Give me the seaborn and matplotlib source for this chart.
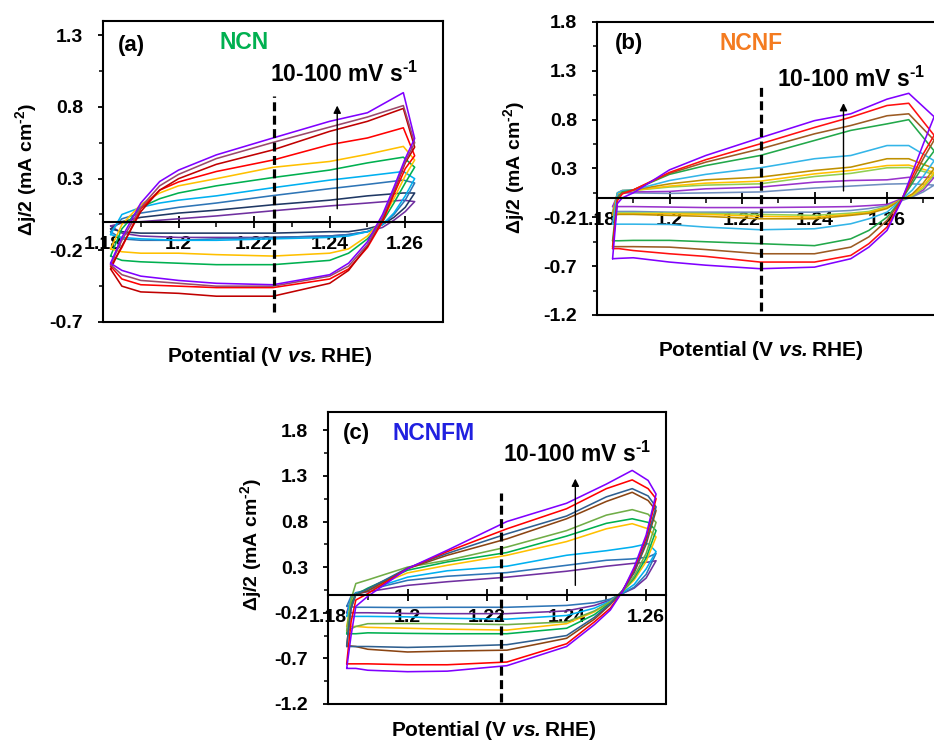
import numpy as np
import pandas as pd
import matplotlib
matplotlib.use("Agg")
import matplotlib.pyplot as plt
import seaborn as sns
from matplotlib.ticker import FixedLocator

# ---------------- data ----------------
RATES = [10, 20, 30, 40, 50, 60, 70, 80, 90, 100]

# Panel (a) NCN
A_V_UP = [1.182, 1.185, 1.19, 1.195, 1.20, 1.21, 1.225, 1.24, 1.25, 1.2595, 1.2625]
A_V_LO = [1.2625, 1.260, 1.257, 1.254, 1.25, 1.245, 1.24, 1.225, 1.21, 1.20, 1.19, 1.185, 1.182]
a_up_10 = [-0.03, -0.01, 0.00, 0.01, 0.02, 0.04, 0.076, 0.11, 0.13, 0.15, 0.14]
a_lo_10 = [0.14, 0.07, 0.01, -0.04, -0.07, -0.09, -0.10, -0.11, -0.11, -0.11, -0.10, -0.08, -0.03]
a_up_20 = [-0.05, 0.00, 0.03, 0.045, 0.06, 0.08, 0.118, 0.15, 0.18, 0.20, 0.20]
a_lo_20 = [0.20, 0.10, 0.03, -0.02, -0.05, -0.07, -0.07, -0.08, -0.08, -0.08, -0.08, -0.07, -0.05]
a_up_30 = [-0.07, 0.02, 0.06, 0.08, 0.10, 0.13, 0.182, 0.23, 0.26, 0.29, 0.27]
a_lo_30 = [0.27, 0.15, 0.05, -0.02, -0.07, -0.09, -0.10, -0.11, -0.12, -0.13, -0.13, -0.12, -0.07]
a_up_40 = [-0.09, 0.05, 0.10, 0.13, 0.15, 0.18, 0.237, 0.29, 0.32, 0.35, 0.30]
a_lo_40 = [0.30, 0.18, 0.06, -0.02, -0.07, -0.10, -0.11, -0.12, -0.13, -0.13, -0.12, -0.11, -0.09]
a_up_50 = [-0.24, -0.05, 0.10, 0.16, 0.20, 0.25, 0.308, 0.36, 0.41, 0.45, 0.38]
a_lo_50 = [0.38, 0.27, 0.13, 0.00, -0.12, -0.22, -0.27, -0.30, -0.30, -0.29, -0.28, -0.27, -0.24]
a_up_60 = [-0.19, -0.02, 0.12, 0.20, 0.25, 0.30, 0.379, 0.42, 0.47, 0.525, 0.43]
a_lo_60 = [0.43, 0.32, 0.16, 0.02, -0.10, -0.19, -0.22, -0.24, -0.23, -0.22, -0.22, -0.21, -0.19]
a_up_70 = [-0.31, -0.18, 0.09, 0.22, 0.277, 0.35, 0.43, 0.537, 0.584, 0.655, 0.46]
a_lo_70 = [0.46, 0.37, 0.19, 0.00, -0.18, -0.33, -0.40, -0.46, -0.46, -0.45, -0.44, -0.40, -0.31]
a_up_80 = [-0.33, -0.17, 0.07, 0.22, 0.30, 0.40, 0.501, 0.63, 0.70, 0.79, 0.52]
a_lo_80 = [0.52, 0.41, 0.21, 0.02, -0.17, -0.34, -0.43, -0.52, -0.52, -0.50, -0.49, -0.45, -0.33]
a_up_90 = [-0.30, -0.13, 0.10, 0.25, 0.33, 0.44, 0.553, 0.66, 0.73, 0.81, 0.55]
a_lo_90 = [0.55, 0.42, 0.22, 0.03, -0.16, -0.31, -0.38, -0.45, -0.45, -0.43, -0.41, -0.37, -0.30]
a_up_100 = [-0.29, -0.11, 0.13, 0.28, 0.36, 0.466, 0.584, 0.70, 0.76, 0.90, 0.58]
a_lo_100 = [0.58, 0.44, 0.24, 0.05, -0.14, -0.29, -0.37, -0.44, -0.43, -0.41, -0.38, -0.34, -0.29]
A_COLORS = ["#7030A0", "#1F3864", "#2E75B6", "#00B0F0", "#00B050",
            "#FFC000", "#FF0000", "#C00000", "#9A4A6A", "#8000FF"]

# Panel (b) NCNF
B_V_UP = [1.1843, 1.1856, 1.187, 1.19, 1.20, 1.21, 1.225, 1.24, 1.25, 1.26, 1.266, 1.273]
B_V_LO = [1.273, 1.270, 1.267, 1.264, 1.26, 1.255, 1.25, 1.24, 1.225, 1.21, 1.20, 1.19, 1.186, 1.1843]
b_up_10 = [-0.14, 0.03, 0.05, 0.05, 0.045, 0.05, 0.06, 0.10, 0.12, 0.14, 0.145, 0.13]
b_lo_10 = [0.13, 0.06, 0.01, -0.03, -0.08, -0.11, -0.13, -0.147, -0.147, -0.147, -0.147, -0.14, -0.14, -0.14]
b_up_20 = [-0.09, 0.02, 0.05, 0.06, 0.065, 0.092, 0.109, 0.16, 0.177, 0.184, 0.21, 0.21]
b_lo_20 = [0.21, 0.08, 0.02, -0.01, -0.068, -0.08, -0.09, -0.095, -0.10, -0.10, -0.095, -0.09, -0.09, -0.09]
b_up_30 = [-0.16, 0.04, 0.07, 0.075, 0.11, 0.13, 0.143, 0.218, 0.25, 0.307, 0.31, 0.24]
b_lo_30 = [0.24, 0.10, 0.02, -0.02, -0.09, -0.14, -0.157, -0.18, -0.17, -0.16, -0.157, -0.155, -0.155, -0.16]
b_up_40 = [-0.17, 0.04, 0.07, 0.075, 0.12, 0.15, 0.17, 0.245, 0.28, 0.33, 0.335, 0.26]
b_lo_40 = [0.26, 0.12, 0.03, -0.02, -0.10, -0.15, -0.17, -0.198, -0.19, -0.17, -0.164, -0.165, -0.165, -0.17]
b_up_50 = [-0.18, 0.05, 0.075, 0.08, 0.143, 0.184, 0.211, 0.28, 0.314, 0.40, 0.40, 0.30]
b_lo_50 = [0.30, 0.15, 0.04, -0.02, -0.11, -0.16, -0.18, -0.215, -0.215, -0.19, -0.18, -0.17, -0.17, -0.18]
b_up_60 = [-0.27, 0.05, 0.075, 0.08, 0.177, 0.24, 0.307, 0.40, 0.433, 0.535, 0.535, 0.38]
b_lo_60 = [0.38, 0.22, 0.08, -0.02, -0.147, -0.215, -0.266, -0.317, -0.327, -0.30, -0.273, -0.27, -0.27, -0.27]
b_up_70 = [-0.44, 0.00, 0.06, 0.08, 0.24, 0.33, 0.433, 0.587, 0.69, 0.757, 0.80, 0.48]
b_lo_70 = [0.48, 0.33, 0.15, -0.02, -0.198, -0.334, -0.42, -0.49, -0.47, -0.45, -0.436, -0.436, -0.44, -0.44]
b_up_80 = [-0.50, -0.02, 0.05, 0.08, 0.25, 0.365, 0.50, 0.655, 0.74, 0.84, 0.86, 0.59]
b_lo_80 = [0.59, 0.40, 0.18, -0.02, -0.232, -0.40, -0.505, -0.573, -0.573, -0.53, -0.505, -0.50, -0.50, -0.50]
b_up_90 = [-0.52, -0.03, 0.04, 0.08, 0.26, 0.39, 0.552, 0.72, 0.825, 0.945, 0.968, 0.64]
b_lo_90 = [0.64, 0.45, 0.22, -0.02, -0.30, -0.47, -0.59, -0.658, -0.658, -0.60, -0.573, -0.54, -0.52, -0.52]
b_up_100 = [-0.624, -0.06, 0.00, 0.05, 0.286, 0.433, 0.614, 0.79, 0.86, 1.01, 1.07, 0.83]
b_lo_100 = [0.83, 0.55, 0.26, -0.03, -0.334, -0.505, -0.624, -0.71, -0.726, -0.69, -0.658, -0.614, -0.62, -0.624]
B_COLORS = ["#6F8FC0", "#9933CC", "#92D050", "#FFC000", "#BF9000",
            "#33B5E8", "#22A84A", "#9C5B23", "#FF1010", "#8000FF"]

# Panel (c) NCNFM
C_V_UP = [1.1847, 1.1858, 1.187, 1.19, 1.20, 1.21, 1.225, 1.24, 1.25, 1.2565, 1.2605, 1.2625]
C_V_LO = [1.2625, 1.260, 1.257, 1.254, 1.251, 1.247, 1.24, 1.225, 1.21, 1.20, 1.19, 1.187, 1.1847]
c_up_10 = [-0.20, -0.05, 0.01, 0.03, 0.10, 0.14, 0.19, 0.255, 0.31, 0.34, 0.355, 0.37]
c_lo_10 = [0.37, 0.18, 0.07, 0.01, -0.06, -0.12, -0.18, -0.21, -0.21, -0.208, -0.20, -0.20, -0.20]
c_up_20 = [-0.13, -0.02, 0.02, 0.05, 0.155, 0.20, 0.24, 0.32, 0.375, 0.39, 0.41, 0.45]
c_lo_20 = [0.45, 0.22, 0.08, 0.01, -0.05, -0.09, -0.12, -0.14, -0.14, -0.143, -0.14, -0.14, -0.13]
c_up_30 = [-0.24, -0.04, 0.01, 0.05, 0.19, 0.26, 0.31, 0.43, 0.48, 0.52, 0.557, 0.47]
c_lo_30 = [0.47, 0.28, 0.11, 0.02, -0.07, -0.15, -0.23, -0.27, -0.26, -0.245, -0.24, -0.24, -0.24]
c_up_40 = [-0.35, -0.08, 0.00, 0.06, 0.237, 0.32, 0.43, 0.58, 0.72, 0.776, 0.72, 0.63]
c_lo_40 = [0.63, 0.36, 0.16, 0.03, -0.08, -0.19, -0.32, -0.39, -0.38, -0.37, -0.36, -0.35, -0.35]
c_up_50 = [-0.43, -0.10, 0.00, 0.07, 0.266, 0.357, 0.46, 0.64, 0.78, 0.83, 0.79, 0.70]
c_lo_50 = [0.70, 0.40, 0.18, 0.03, -0.09, -0.22, -0.37, -0.43, -0.43, -0.426, -0.42, -0.43, -0.43]
c_up_60 = [-0.40, -0.05, 0.12, 0.16, 0.30, 0.375, 0.52, 0.70, 0.87, 0.93, 0.88, 0.79]
c_lo_60 = [0.79, 0.45, 0.20, 0.03, -0.08, -0.18, -0.30, -0.33, -0.32, -0.318, -0.32, -0.35, -0.40]
c_up_70 = [-0.56, -0.15, 0.00, 0.04, 0.283, 0.43, 0.61, 0.83, 1.02, 1.12, 1.03, 0.92]
c_lo_70 = [0.92, 0.55, 0.24, 0.04, -0.11, -0.27, -0.48, -0.61, -0.62, -0.63, -0.60, -0.57, -0.56]
c_up_80 = [-0.57, -0.15, 0.00, 0.06, 0.29, 0.45, 0.665, 0.86, 1.07, 1.16, 1.08, 0.96]
c_lo_80 = [0.96, 0.58, 0.25, 0.04, -0.10, -0.25, -0.45, -0.55, -0.57, -0.58, -0.57, -0.57, -0.57]
c_up_90 = [-0.76, -0.30, -0.06, 0.01, 0.284, 0.47, 0.72, 0.94, 1.16, 1.256, 1.16, 1.05]
c_lo_90 = [1.05, 0.62, 0.28, 0.03, -0.15, -0.30, -0.54, -0.74, -0.77, -0.77, -0.76, -0.76, -0.76]
c_up_100 = [-0.81, -0.45, -0.13, -0.02, 0.284, 0.485, 0.80, 1.00, 1.21, 1.36, 1.25, 1.10]
c_lo_100 = [1.10, 0.65, 0.30, 0.03, -0.17, -0.33, -0.57, -0.78, -0.84, -0.846, -0.83, -0.81, -0.81]
C_COLORS = ["#7030A0", "#2E75B6", "#00B0F0", "#FFC000", "#00B050",
            "#70AD47", "#8B4513", "#2F5F8F", "#FF0000", "#8000FF"]

# axis ticks / labels
A_YTICKS = [-0.7, -0.2, 0.3, 0.8, 1.3]
BC_YTICKS = [-1.2, -0.7, -0.2, 0.3, 0.8, 1.3, 1.8]
XTICKS = [1.18, 1.20, 1.22, 1.24, 1.26]
XTICK_LABELS = ["1.18", "1.2", "1.22", "1.24", "1.26"]
TITLES = ["(a)", "(b)", "(c)"]
NAMES = ["NCN", "NCNF", "NCNFM"]
NAME_COLORS = ["#00B050", "#F47B20", "#2020E0"]

# ---------------- style ----------------
sns.set_theme(style="white")
plt.rcParams["font.family"] = ["Liberation Sans", "DejaVu Sans"]
plt.rcParams["font.weight"] = "bold"
plt.rcParams["mathtext.fontset"] = "custom"
plt.rcParams["mathtext.rm"] = "Liberation Sans:bold"
plt.rcParams["mathtext.bf"] = "Liberation Sans:bold"
plt.rcParams["mathtext.it"] = "Liberation Sans:italic:bold"
plt.rcParams["mathtext.bfit"] = "Liberation Sans:italic:bold"
plt.rcParams["axes.edgecolor"] = "black"


def build_df(v_up, v_lo, ups, los):
    rows = []
    for rate, up, lo in zip(RATES, ups, los):
        for v, j in zip(v_up, up):
            rows.append((rate, v, j))
        for v, j in zip(v_lo, lo):
            rows.append((rate, v, j))
    return pd.DataFrame(rows, columns=["rate", "V", "j"])


df_a = build_df(A_V_UP, A_V_LO,
                [a_up_10, a_up_20, a_up_30, a_up_40, a_up_50, a_up_60, a_up_70, a_up_80, a_up_90, a_up_100],
                [a_lo_10, a_lo_20, a_lo_30, a_lo_40, a_lo_50, a_lo_60, a_lo_70, a_lo_80, a_lo_90, a_lo_100])
df_b = build_df(B_V_UP, B_V_LO,
                [b_up_10, b_up_20, b_up_30, b_up_40, b_up_50, b_up_60, b_up_70, b_up_80, b_up_90, b_up_100],
                [b_lo_10, b_lo_20, b_lo_30, b_lo_40, b_lo_50, b_lo_60, b_lo_70, b_lo_80, b_lo_90, b_lo_100])
df_c = build_df(C_V_UP, C_V_LO,
                [c_up_10, c_up_20, c_up_30, c_up_40, c_up_50, c_up_60, c_up_70, c_up_80, c_up_90, c_up_100],
                [c_lo_10, c_lo_20, c_lo_30, c_lo_40, c_lo_50, c_lo_60, c_lo_70, c_lo_80, c_lo_90, c_lo_100])

fig = plt.figure(figsize=(9.34, 7.42), dpi=100)
fig.patch.set_facecolor("white")

W, H = 934.0, 742.0


def rect(l, t, r, b):
    return [l / W, (H - b) / H, (r - l) / W, (b - t) / H]


panels = [
    dict(df=df_a, colors=A_COLORS, rect=rect(103, 21, 443, 322), xlim=(1.18, 1.27), ylim=(-0.7, 1.4),
         yticks=A_YTICKS, dash=(1.2252, -0.63, 0.877), arrow=(1.242, 0.09, 0.81),
         title_xy=(0.044, 0.917), name_xy=(0.344, 0.93), rate_xy=(0.491, 0.798),
         xlab=(0.49, -0.075), ylab=(-0.188, 0.505)),
    dict(df=df_b, colors=B_COLORS, rect=rect(597, 22, 959.5, 315), xlim=(1.18, 1.28), ylim=(-1.2, 1.8),
         yticks=BC_YTICKS, dash=(1.2252, -1.16, 1.147), arrow=(1.248, 0.07, 0.97),
         title_xy=(0.05, 0.925), name_xy=(0.339, 0.928), rate_xy=(0.497, 0.778),
         xlab=(0.452, -0.082), ylab=(-0.193, 0.505)),
    dict(df=df_c, colors=C_COLORS, rect=rect(328, 412, 666, 704), xlim=(1.18, 1.265), ylim=(-1.2, 2.0),
         yticks=BC_YTICKS, dash=(1.2235, -1.175, 1.108), arrow=(1.2422, 0.10, 1.27),
         title_xy=(0.044, 0.925), name_xy=(0.192, 0.928), rate_xy=(0.518, 0.829),
         xlab=(0.49, -0.052), ylab=(-0.19, 0.545)),
]

for i, p in enumerate(panels):
    ax = fig.add_axes(p["rect"])
    ax.set_facecolor("white")
    palette = dict(zip(RATES, p["colors"]))
    sns.lineplot(data=p["df"], x="V", y="j", hue="rate", units="rate", estimator=None,
                 sort=False, palette=palette, legend=False, linewidth=1.15, ax=ax)
    ax.set_xlim(*p["xlim"])
    ax.set_ylim(*p["ylim"])

    # frame + zero axis
    for s in ["left", "top", "right"]:
        ax.spines[s].set_visible(True)
        ax.spines[s].set_color("black")
        ax.spines[s].set_linewidth(1.5)
    ax.spines["bottom"].set_position(("data", 0))
    ax.spines["bottom"].set_color("black")
    ax.spines["bottom"].set_linewidth(1.5)
    ax.plot([0, 1], [0, 0], transform=ax.transAxes, color="black", lw=1.5, clip_on=False)

    # ticks
    y0, y1 = p["ylim"]
    ax.yaxis.set_major_locator(FixedLocator(p["yticks"]))
    ax.yaxis.set_minor_locator(FixedLocator(list(np.arange(y0, y1 + 1e-9, 0.25))))
    ax.set_yticklabels([f"{t:.1f}" for t in p["yticks"]])
    ax.xaxis.set_major_locator(FixedLocator(XTICKS))
    ax.xaxis.set_minor_locator(FixedLocator(list(np.arange(1.18, p["xlim"][1] + 1e-9, 0.01))))
    ax.set_xticklabels(XTICK_LABELS)
    ax.tick_params(axis="y", which="major", direction="out", length=3.8, width=1.3,
                   pad=10.5, labelsize=14, left=True, colors="black")
    ax.tick_params(axis="y", which="minor", direction="out", length=2.6, width=1.1, left=True, colors="black")
    ax.tick_params(axis="x", which="major", direction="inout", length=8, width=1.3,
                   pad=6.5, labelsize=14, bottom=True, colors="black")
    ax.tick_params(axis="x", which="minor", direction="out", length=3.6, width=1.1, bottom=True, colors="black")
    for lab in ax.get_xticklabels() + ax.get_yticklabels():
        lab.set_fontweight("bold")

    # labels
    ax.set_xlabel(r"Potential (V $\mathbfit{vs.}$RHE)", fontsize=15, fontweight="bold", color="black")
    ax.xaxis.set_label_coords(*p["xlab"])
    ax.set_ylabel(r"$\Delta$j/2 (mA cm$^{\text{-}2}$)", fontsize=14, fontweight="bold", color="black")
    ax.yaxis.set_label_coords(*p["ylab"])

    # annotations
    dv, d0, d1 = p["dash"]
    ax.plot([dv, dv], [d0, d1], color="black", lw=2.3, dashes=(2.8, 1.4), solid_capstyle="butt")
    av, a0, a1 = p["arrow"]
    ax.annotate("", xy=(av, a1), xytext=(av, a0),
                arrowprops=dict(arrowstyle="-|>", color="black", lw=1.0, mutation_scale=11,
                                shrinkA=0, shrinkB=0))
    ax.text(*p["title_xy"], TITLES[i], transform=ax.transAxes, fontsize=16, fontweight="bold",
            va="center", ha="left", color="black")
    ax.text(*p["name_xy"], NAMES[i], transform=ax.transAxes, fontsize=16.5, fontweight="bold",
            va="center", ha="left", color=NAME_COLORS[i])
    ax.text(*p["rate_xy"], r"10-100 mV s$^{\text{-}1}$", transform=ax.transAxes, fontsize=16.5,
            fontweight="bold", va="baseline", ha="left", color="black")

fig.savefig("out.png", dpi=100, facecolor="white")
